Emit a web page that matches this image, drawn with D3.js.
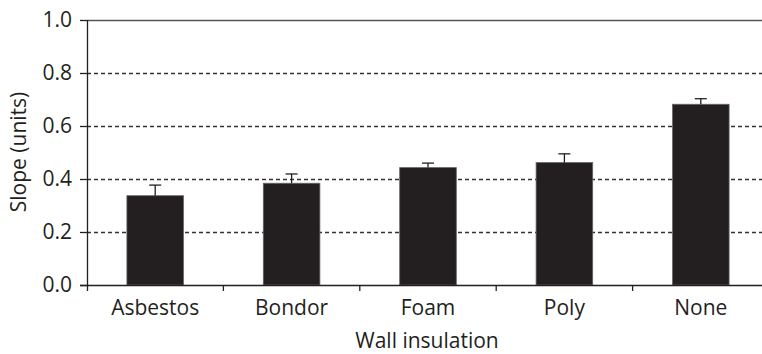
<!DOCTYPE html>
<html><head><meta charset="utf-8">
<script src="https://cdn.jsdelivr.net/npm/d3@7"></script>
<style>
html,body{margin:0;padding:0;background:#fff;}
svg{display:block;}
text{font-family:"Open Sans","Noto Sans",sans-serif;fill:#231f20;}
</style></head>
<body>
<svg id="chart" width="762" height="354"></svg>
<script>
const categories = ["Asbestos","Bondor","Foam","Poly","None"];
const slopes = [0.337, 0.384, 0.443, 0.462, 0.682];
const errors = [0.040, 0.035, 0.017, 0.033, 0.021];
const yTicks = [0.0, 0.2, 0.4, 0.6, 0.8, 1.0];

const svg = d3.select("#chart");
const ink = "#231f20";
const fs = 21;
const x = d3.scaleBand().domain(categories).range([87, 769]).padding(0);
const y = d3.scaleLinear().domain([0, 1]).range([285, 20]);
const barFrac = 0.415;

// gridlines
svg.append("g").selectAll("line").data(yTicks.filter(d => d > 0 && d < 1)).join("line")
  .attr("x1", 87).attr("x2", 762)
  .attr("y1", d => y(d) + 0.5).attr("y2", d => y(d) + 0.5)
  .attr("stroke", "#333").attr("stroke-width", 1.5).attr("stroke-dasharray", "4,3");
// top solid line
svg.append("line").attr("x1", 87).attr("x2", 762).attr("y1", y(1) + 0.5).attr("y2", y(1) + 0.5)
  .attr("stroke", "#555").attr("stroke-width", 1.5);

// bars
const bw = x.bandwidth() * barFrac;
const cx = d => x(d) + x.bandwidth() / 2;
svg.append("g").selectAll("rect").data(categories).join("rect")
  .attr("x", d => cx(d) - bw / 2)
  .attr("width", bw)
  .attr("y", (d, i) => y(slopes[i]))
  .attr("height", (d, i) => y(0) - y(slopes[i]))
  .attr("fill", ink).attr("stroke", "#666").attr("stroke-width", 0.8);

// error bars
const eg = svg.append("g").attr("stroke", ink).attr("stroke-width", 1.3);
categories.forEach((c, i) => {
  const top = y(slopes[i] + errors[i]);
  eg.append("line").attr("x1", cx(c)).attr("x2", cx(c)).attr("y1", y(slopes[i])).attr("y2", top);
  eg.append("line").attr("x1", cx(c) - 6).attr("x2", cx(c) + 6).attr("y1", top).attr("y2", top);
});

// y axis
const yAxis = d3.axisLeft(y).tickValues(yTicks).tickFormat(d3.format(".1f")).tickSize(7).tickPadding(8);
const gy = svg.append("g").attr("transform", "translate(87,0)").call(yAxis);
gy.select(".domain").attr("stroke", ink).attr("stroke-width", 1.3).attr("d", "M0.5," + y(1) + "V" + (y(0) + 6));
gy.selectAll(".tick line").attr("stroke", ink).attr("stroke-width", 1.3);
gy.selectAll(".tick text").attr("font-size", fs).attr("fill", ink).style("font-family", '"Open Sans",sans-serif');

// x axis
const gx = svg.append("g").attr("transform", "translate(0," + y(0) + ")");
gx.append("line").attr("x1", 80).attr("x2", 762).attr("y1", 0.5).attr("y2", 0.5).attr("stroke", ink).attr("stroke-width", 1.4);
const bounds = categories.slice(1).map(c => x(c));
gx.selectAll("line.tk").data(bounds).join("line").attr("class", "tk")
  .attr("x1", d => d).attr("x2", d => d).attr("y1", 0).attr("y2", 6)
  .attr("stroke", ink).attr("stroke-width", 1.3);
gx.selectAll("text").data(categories).join("text")
  .attr("x", d => cx(d)).attr("y", 30).attr("text-anchor", "middle")
  .attr("font-size", fs).text(d => d);

// axis titles
svg.append("text").attr("x", 427).attr("y", 348).attr("text-anchor", "middle")
  .attr("font-size", fs).text("Wall insulation");
svg.append("text").attr("transform", "translate(26,152) rotate(-90)").attr("text-anchor", "middle")
  .attr("font-size", fs).text("Slope (units)");
</script>
</body></html>
